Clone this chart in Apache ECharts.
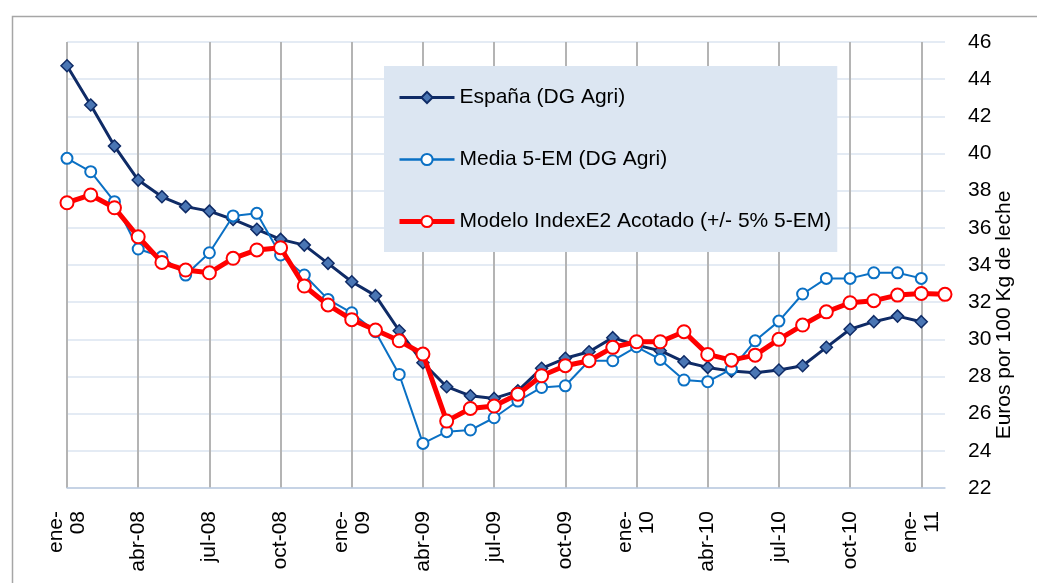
<!DOCTYPE html>
<html>
<head>
<meta charset="utf-8">
<script src="https://cdn.jsdelivr.net/npm/echarts@6/dist/echarts.min.js"></script>
<style>
  html, body { margin: 0; padding: 0; background: #fff; }
  #main { width: 1037px; height: 583px; }
</style>
</head>
<body>
<div id="main"></div>
<script>
// meses (ene-08 .. feb-11)
var months = ['ene-08','feb-08','mar-08','abr-08','may-08','jun-08','jul-08','ago-08','sep-08','oct-08','nov-08','dic-08',
  'ene-09','feb-09','mar-09','abr-09','may-09','jun-09','jul-09','ago-09','sep-09','oct-09','nov-09','dic-09',
  'ene-10','feb-10','mar-10','abr-10','may-10','jun-10','jul-10','ago-10','sep-10','oct-10','nov-10','dic-10',
  'ene-11','feb-11'];

var espana = [44.72, 42.61, 40.40, 38.57, 37.67, 37.14, 36.90, 36.45, 35.92, 35.38, 35.07, 34.09,
  33.10, 32.35, 30.46, 28.74, 27.45, 26.96, 26.82, 27.23, 28.44, 28.98, 29.33, 30.09,
  29.69, 29.39, 28.79, 28.49, 28.29, 28.20, 28.35, 28.58, 29.57, 30.54, 30.95, 31.25,
  30.95, null];

var media5 = [39.74, 39.02, 37.41, 34.86, 34.44, 33.46, 34.66, 36.64, 36.78, 34.54, 33.46, 32.15,
  31.43, 30.41, 28.11, 24.40, 25.03, 25.12, 25.78, 26.68, 27.41, 27.50, 28.85, 28.85,
  29.60, 28.92, 27.81, 27.72, 28.40, 29.92, 30.98, 32.44, 33.28, 33.28, 33.58, 33.58,
  33.28, null];

var modelo = [37.35, 37.77, 37.08, 35.52, 34.14, 33.73, 33.58, 34.36, 34.81, 34.93, 32.87, 31.85,
  31.06, 30.50, 29.92, 29.21, 25.60, 26.28, 26.41, 27.05, 28.04, 28.58, 28.85, 29.57,
  29.87, 29.87, 30.41, 29.19, 28.88, 29.15, 30.00, 30.77, 31.48, 31.97, 32.08, 32.38,
  32.47, 32.42];

var seriesNames = ['España (DG Agri)', 'Media 5-EM (DG Agri)', 'Modelo IndexE2 Acotado (+/- 5% 5-EM)'];
var yTicks = { min: 22, max: 46, step: 2 };

var font = '"Liberation Sans", Arial, sans-serif';
var chart = echarts.init(document.getElementById('main'), null, { renderer: 'canvas' });

var option = {
  animation: false,
  backgroundColor: '#fff',
  graphic: [{
    type: 'rect',
    left: 10, top: 14,
    shape: { width: 1100, height: 700 },
    style: { fill: 'none', stroke: '#a6a6a6', lineWidth: 1.5 },
    silent: true
  }],
  grid: { left: 67, right: 92, top: 42, bottom: 95 },
  legend: {
    orient: 'vertical',
    left: 384, top: 66,
    backgroundColor: '#dce6f2',
    padding: [21, 6, 20, 13],
    itemWidth: 55,
    itemHeight: 14,
    itemGap: 41,
    textStyle: { fontFamily: font, fontSize: 21, color: '#000', lineHeight: 20 },
    data: [
      { name: seriesNames[0], lineStyle: { width: 3 } },
      { name: seriesNames[1], lineStyle: { width: 2.5 } },
      { name: seriesNames[2], lineStyle: { width: 5 } }
    ]
  },
  xAxis: {
    type: 'category',
    boundaryGap: false,
    data: months,
    axisLine: { lineStyle: { color: '#bccce0', width: 1.5 } },
    axisTick: { show: false },
    axisLabel: {
      interval: 2,
      rotate: 90,
      margin: 23,
      fontFamily: font,
      fontSize: 21,
      color: '#000',
      lineHeight: 22,
      formatter: function (v) {
        return v.indexOf('ene') === 0 ? v.replace('-', '-\n') : v;
      }
    },
    splitLine: { show: true, interval: 2, lineStyle: { color: '#b4b4b4', width: 2 } }
  },
  yAxis: {
    type: 'value',
    position: 'right',
    min: yTicks.min, max: yTicks.max, interval: yTicks.step,
    name: 'Euros por 100 Kg de leche',
    nameLocation: 'middle',
    nameRotate: 90,
    nameGap: 49,
    nameMoveOverlap: false,
    nameTextStyle: { fontFamily: font, fontSize: 21, color: '#000', padding: [0, 100, 0, 0] },
    axisLine: { show: false },
    axisTick: { show: false },
    axisLabel: { margin: 23, fontFamily: font, fontSize: 21, color: '#000' },
    splitLine: { lineStyle: { color: '#dbe4f0', width: 1.5 } }
  },
  series: [
    {
      name: seriesNames[0],
      type: 'line',
      data: espana,
      symbol: 'diamond',
      symbolSize: 12,
      lineStyle: { color: '#0f2b66', width: 3 },
      itemStyle: { color: '#4a76b4', borderColor: '#0f2b66', borderWidth: 1.5 },
      z: 2
    },
    {
      name: seriesNames[1],
      type: 'line',
      data: media5,
      symbol: 'circle',
      symbolSize: 11,
      lineStyle: { color: '#0a70c4', width: 2 },
      itemStyle: { color: '#fff', borderColor: '#0a70c4', borderWidth: 2 },
      z: 3
    },
    {
      name: seriesNames[2],
      type: 'line',
      data: modelo,
      symbol: 'circle',
      symbolSize: 13,
      lineStyle: { color: '#ff0000', width: 5 },
      itemStyle: { color: '#fff', borderColor: '#ff0000', borderWidth: 2 },
      z: 4
    }
  ]
};

chart.setOption(option);
</script>
</body>
</html>
